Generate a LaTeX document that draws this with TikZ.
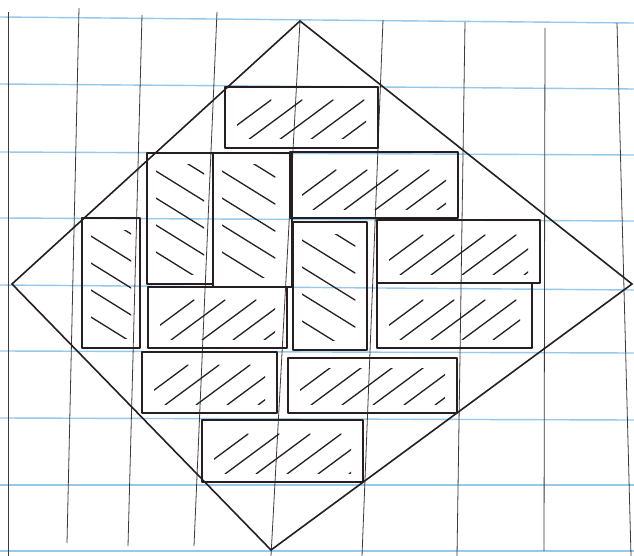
\documentclass[tikz,border=0pt]{standalone}
\usepackage{tikz}

\definecolor{ink}{RGB}{38,30,32}
\definecolor{ruleblue}{RGB}{150,200,236}
\definecolor{pencil}{RGB}{60,58,60}

\begin{document}
\begin{tikzpicture}[
  x=1pt, y=-1pt,
  ruled/.style={ruleblue, line width=1.4pt},
  gridline/.style={pencil, line width=0.8pt},
  outline/.style={ink, line width=1.6pt, line join=miter},
  domino/.style={ink, line width=2.4pt, line join=round},
  hatch/.style={ink, line width=1.3pt, line cap=round}
]
\useasboundingbox[fill=white] (0,0) rectangle (634,556);

% ruled paper
\foreach \yl/\yr in {17/23, 84/89, 152/155, 218/221, 285/290, 351/353, 418/420, 485/485, 551/551}
  \draw[ruled] (0,\yl) -- (634,\yr);
\foreach \xt/\yt/\xb/\yb in {8/12/8/556, 79/8/67/543, 142/15/128/546, 217/12/194/546, 300/21/271/556,
                             383/20/362/556, 465/22/457/556, 545/28/544/551, 617/23/631/556}
  \draw[gridline] (\xt,\yt) -- (\xb,\yb);

% diamond
\coordinate (top) at (300,21);
\coordinate (right) at (632,284);
\coordinate (bottom) at (271,550);
\coordinate (left) at (12,284);
\draw[outline] (top) -- (right) -- (bottom) -- (left) -- cycle;

% horizontal dominoes
\foreach \xa/\ya/\xb/\yb in {225/87/378/148, 290/152/458/218, 377/220/540/283, 148/287/287/348,
                             377/283/532/348, 142/352/277/413, 288/358/457/413, 202/420/363/482} {
  \begin{scope}
    \clip (\xa+12,\ya+10) rectangle (\xb-12,\yb-9);
    \foreach \k in {0,...,6}
      \draw[hatch] (\xa+\k*31-8,\yb-8) -- ++(54,-40);
  \end{scope}
  \draw[domino] (\xa,\ya) rectangle (\xb,\yb);
}

% vertical dominoes
\foreach \xa/\ya/\xb/\yb in {147/153/213/284, 213/153/292/287, 82/218/140/348, 293/222/367/350} {
  \begin{scope}
    \clip (\xa+9,\ya+12) rectangle (\xb-9,\yb-10);
    \foreach \k in {0,...,6}
      \draw[hatch] (\xa+4,\ya+\k*27-12) -- ++(58,36);
  \end{scope}
  \draw[domino] (\xa,\ya) rectangle (\xb,\yb);
}
\end{tikzpicture}
\end{document}
